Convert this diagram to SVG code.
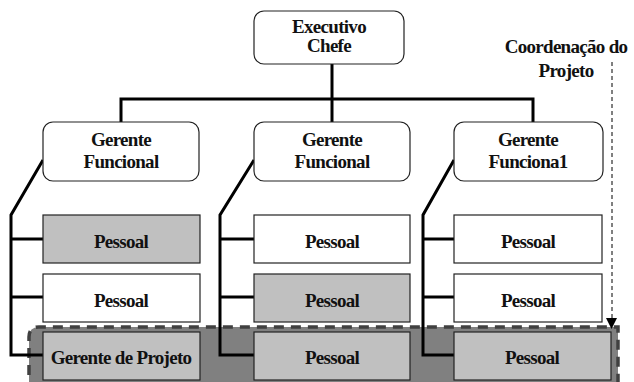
<svg xmlns="http://www.w3.org/2000/svg" width="634" height="382" viewBox="0 0 634 382">
  <style>
    .t { font-family: "Liberation Serif", "Times New Roman", serif; font-weight: bold; font-size: 19px; letter-spacing: -0.7px; fill: #111; text-anchor: middle; }
    .mgr { fill: #fff; stroke: #222; stroke-width: 1.2; }
    .box { stroke: #222; stroke-width: 1.2; }
    .white { fill: #fff; }
    .gray { fill: #c0c0c0; }
    .link { fill: none; stroke: #000; stroke-width: 3; }
  </style>

  <rect width="634" height="382" fill="#fff"/>

  <!-- project coordination band -->
  <g id="project-band">
    <path d="M29,392 L29,337 Q29,327 39,327 L618,327 L618,392" fill="#808080" stroke="#404040" stroke-width="3.5" stroke-dasharray="10,7"/>
  </g>

  <!-- connectors -->
  <g id="connectors">
    <path class="link" d="M332,64 L332,124"/>
    <path class="link" d="M121,124 L121,99 L533,99 L533,124"/>
    <path class="link" d="M43,160 L11,215 L11,355 L43,355 M11,239 L43,239 M11,297 L43,297"/>
    <path class="link" d="M254,160 L220,215 L220,355 L254,355 M220,239 L254,239 M220,297 L254,297"/>
    <path class="link" d="M454,160 L423,215 L423,355 L454,355 M423,239 L454,239 M423,297 L454,297"/>
    <path d="M612,62 L612,318" fill="none" stroke="#000" stroke-width="1" stroke-dasharray="4,3"/>
    <polygon points="606,318 617,318 611.5,329" fill="#000"/>
  </g>

  <g id="exec">
    <rect class="mgr" x="254" y="11" width="150" height="53" rx="10"/>
    <text class="t" x="329" y="33">Executivo</text>
    <text class="t" x="329" y="52">Chefe</text>
  </g>

  <g id="coordination-label">
    <text class="t" x="566" y="53">Coordenação do</text>
    <text class="t" x="566" y="77">Projeto</text>
  </g>

  <g id="fm1">
    <rect class="mgr" x="43" y="122" width="156" height="59" rx="10"/>
    <text class="t" x="121" y="146">Gerente</text>
    <text class="t" x="121" y="168">Funcional</text>
  </g>
  <g id="fm2">
    <rect class="mgr" x="254" y="122" width="156" height="59" rx="10"/>
    <text class="t" x="332" y="146">Gerente</text>
    <text class="t" x="332" y="168">Funcional</text>
  </g>
  <g id="fm3">
    <rect class="mgr" x="454" y="122" width="149" height="59" rx="10"/>
    <text class="t" x="528" y="146">Gerente</text>
    <text class="t" x="528" y="168">Funciona1</text>
  </g>

  <!-- staff, column 1 -->
  <g id="s11"><rect class="box gray" x="43" y="215" width="157" height="48"/><text class="t" x="121" y="248">Pessoal</text></g>
  <g id="s12"><rect class="box white" x="43" y="274" width="157" height="48"/><text class="t" x="121" y="307">Pessoal</text></g>
  <g id="pm"><rect class="box gray" x="43" y="332" width="157" height="48"/><text class="t" x="121" y="364">Gerente de Projeto</text></g>

  <!-- staff, column 2 -->
  <g id="s21"><rect class="box white" x="254" y="215" width="156" height="48"/><text class="t" x="332" y="248">Pessoal</text></g>
  <g id="s22"><rect class="box gray" x="254" y="274" width="156" height="48"/><text class="t" x="332" y="307">Pessoal</text></g>
  <g id="s23"><rect class="box gray" x="254" y="332" width="156" height="48"/><text class="t" x="332" y="364">Pessoal</text></g>

  <!-- staff, column 3 -->
  <g id="s31"><rect class="box white" x="454" y="215" width="148" height="48"/><text class="t" x="528" y="248">Pessoal</text></g>
  <g id="s32"><rect class="box white" x="454" y="274" width="148" height="48"/><text class="t" x="528" y="307">Pessoal</text></g>
  <g id="s33"><rect class="box gray" x="454" y="332" width="157" height="48"/><text class="t" x="532" y="364">Pessoal</text></g>
</svg>
